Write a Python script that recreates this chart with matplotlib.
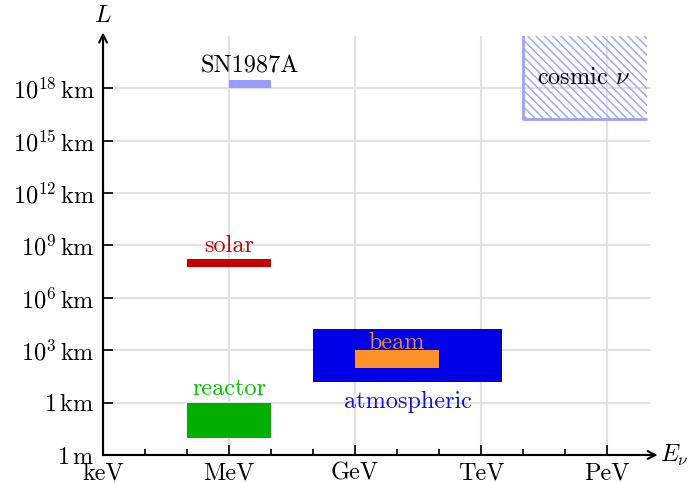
import matplotlib
matplotlib.use('Agg')
import matplotlib.pyplot as plt
from matplotlib.patches import Rectangle

plt.rcParams['font.family'] = 'serif'
plt.rcParams['font.serif'] = ['cmr10']
plt.rcParams['mathtext.fontset'] = 'cm'
plt.rcParams['axes.unicode_minus'] = False
plt.rcParams['hatch.linewidth'] = 1.0

# neutrino sources: energy range (eV) and baseline range (km)
names = ['reactor', 'solar', 'SN1987A', 'atmospheric', 'beam', 'cosmic']
E_lo = [1e5, 1e5, 1e6, 1e8, 1e9, 1e13]
E_hi = [1e7, 1e7, 1e7, 10**12.5, 1e11, 10**15.95]
L_lo = [1e-2, 6e7, 1e18, 10**1.2, 1e2, 10**16.26]
L_hi = [1.0, 1.7e8, 2.8e18, 10**4.2, 1e3, 1e22]
colours = ['#00b000', '#cc0000', '#9999ff', '#0000e6', '#ff9126', '#a0a0ff']

# axis ticks
x_ticks = [1e3, 1e6, 1e9, 1e12, 1e15]
x_labels = ['keV', 'MeV', 'GeV', 'TeV', 'PeV']
x_minor = [1e4, 1e5, 1e7, 1e8, 1e10, 1e11, 1e13, 1e14]
y_ticks = [1e-3, 1, 1e3, 1e6, 1e9, 1e12, 1e15, 1e18]
y_labels = [r'$1\,\mathrm{m}$', r'$1\,\mathrm{km}$'] + \
    [r'$10^{%d}\,\mathrm{km}$' % p for p in [3, 6, 9, 12, 15, 18]]

fig = plt.figure(figsize=(6.89, 4.83), dpi=100)
ax = fig.add_axes([0.1495, 0.058, 0.7955, 0.868])
ax.set_xscale('log')
ax.set_yscale('log')
ax.set_xlim(1e3, 10**16.05)
ax.set_ylim(1e-3, 1e21)

for i in range(len(names)):
    if names[i] == 'cosmic':
        # hatched area, border only on the left and bottom sides
        r = Rectangle((E_lo[i], L_lo[i]), E_hi[i] - E_lo[i], L_hi[i] - L_lo[i],
                      facecolor='none', edgecolor=colours[i], hatch='\\\\\\\\',
                      lw=0, zorder=2)
        ax.add_patch(r)
        ax.plot([E_lo[i], E_lo[i], E_hi[i]], [L_hi[i], L_lo[i], L_lo[i]],
                color=colours[i], lw=2, zorder=2, solid_capstyle='butt')
    else:
        r = Rectangle((E_lo[i], L_lo[i]), E_hi[i] - E_lo[i], L_hi[i] - L_lo[i],
                      facecolor=colours[i], edgecolor='none', zorder=2)
        ax.add_patch(r)

fs = 17.5
# labels
ax.annotate('reactor', (1e6, L_hi[0]), xytext=(0, 2), textcoords='offset points',
            ha='center', va='bottom', color='#00c000', fontsize=fs)
ax.annotate('solar', (1e6, L_hi[1]), xytext=(0, 1), textcoords='offset points',
            ha='center', va='bottom', color='#cc0000', fontsize=fs)
ax.annotate('SN1987A', (10**6.5, L_hi[2]), xytext=(0, 2), textcoords='offset points',
            ha='center', va='bottom', color='black', fontsize=fs)
ax.annotate('atmospheric', (10**10.25, L_lo[3]), xytext=(0, -7), textcoords='offset points',
            ha='center', va='top', color='#1010e6', fontsize=fs)
ax.annotate('beam', (1e10, L_hi[4]), xytext=(0, 1), textcoords='offset points',
            ha='center', va='baseline', color='#e08a3c', fontsize=fs)
ax.text(10**14.45, 10**18.6, r'cosmic $\nu$', ha='center', va='center',
        color='black', fontsize=fs, zorder=3)

ax.set_xticks(x_ticks)
ax.set_xticklabels(x_labels, fontsize=fs)
ax.set_xticks(x_minor, minor=True)
ax.set_xticklabels([], minor=True)
ax.set_yticks(y_ticks)
ax.set_yticklabels(y_labels, fontsize=fs)
ax.yaxis.set_minor_locator(matplotlib.ticker.NullLocator())
ax.tick_params(which='major', direction='in', length=7, width=1.2)
ax.tick_params(which='minor', direction='in', length=4.5, width=1.2)
ax.tick_params(axis='x', pad=5)
ax.tick_params(axis='y', pad=6)

ax.grid(which='major', color='#e2e2e2', lw=1.5, zorder=0)
ax.set_axisbelow(True)
for s in ['top', 'right']:
    ax.spines[s].set_visible(False)
for s in ['left', 'bottom']:
    ax.spines[s].set_linewidth(1.5)

ax.annotate('', xy=(1.012, 0), xytext=(0, 0), xycoords='axes fraction',
            arrowprops=dict(arrowstyle='->', lw=1.5, color='black',
                            shrinkA=0, shrinkB=0, mutation_scale=14))
ax.annotate('', xy=(0, 1.008), xytext=(0, 0), xycoords='axes fraction',
            arrowprops=dict(arrowstyle='->', lw=1.5, color='black',
                            shrinkA=0, shrinkB=0, mutation_scale=14))
ax.text(0, 1.02, r'$L$', transform=ax.transAxes, ha='center', va='bottom', fontsize=fs)
ax.text(1.017, 0, r'$E_\nu$', transform=ax.transAxes, ha='left', va='center', fontsize=fs)

fig.savefig('out.png', dpi=100)
